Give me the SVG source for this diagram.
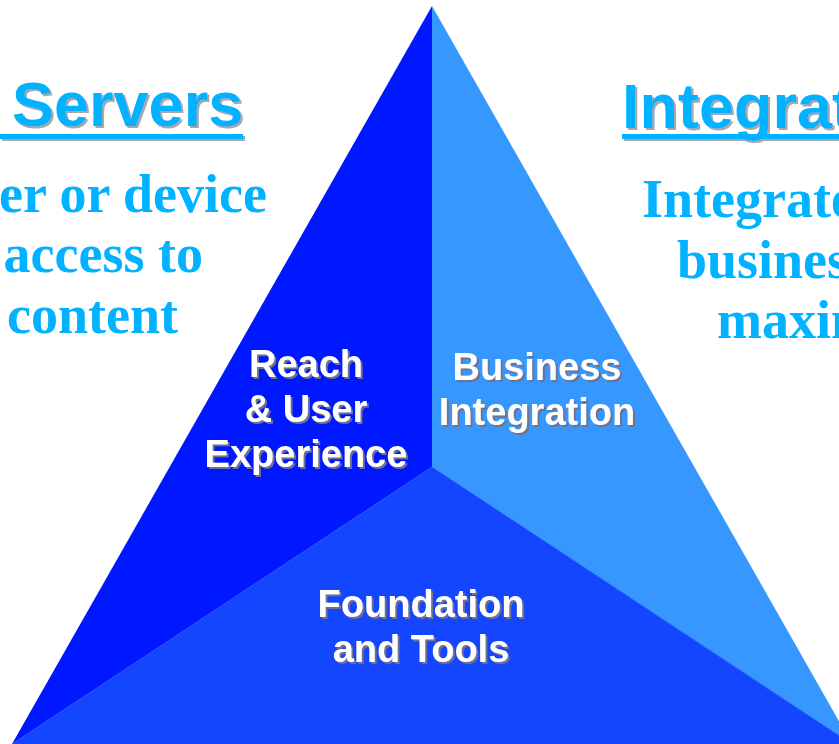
<svg xmlns="http://www.w3.org/2000/svg" width="839" height="744" viewBox="0 0 839 744">
<defs>
<filter id="shHead" x="-5%" y="-10%" width="115%" height="130%">
<feOffset in="SourceAlpha" dx="2" dy="2" result="o"/>
<feFlood flood-color="#a8a8a8"/>
<feComposite in2="o" operator="in" result="s"/>
<feMerge><feMergeNode in="s"/><feMergeNode in="SourceGraphic"/></feMerge>
</filter>
<filter id="shLbl" x="-5%" y="-10%" width="115%" height="130%">
<feOffset in="SourceAlpha" dx="2" dy="2" result="o"/>
<feFlood flood-color="#707090"/>
<feComposite in2="o" operator="in" result="s"/>
<feMerge><feMergeNode in="s"/><feMergeNode in="SourceGraphic"/></feMerge>
</filter>
</defs>
<style>
.head{font-family:"Liberation Sans",Arial,sans-serif;font-weight:bold;font-size:63px;fill:#00b2ff}
.body{font-family:"Liberation Serif","Times New Roman",serif;font-weight:bold;font-size:54px;fill:#00b2ff}
.lbl{font-family:"Liberation Sans",Arial,sans-serif;font-weight:bold;font-size:38px;fill:#ffffff;text-anchor:middle}
.ul{fill:#00b2ff}
</style>
<rect width="839" height="744" fill="#ffffff"/>
<g id="left-text">
<g filter="url(#shHead)">
<rect class="ul" x="0" y="134" width="243" height="5"/>
<text class="head" x="12" y="126">Servers</text>
</g>
<text class="body" text-anchor="end" x="267" y="212">er or device</text>
<text class="body" text-anchor="end" x="203" y="272">access to</text>
<text class="body" text-anchor="end" x="178" y="333">content</text>
</g>
<g id="right-text">
<g filter="url(#shHead)">
<rect class="ul" x="622" y="134" width="220" height="5"/>
<text class="head" x="622" y="128">Integrat</text>
</g>
<text class="body" x="642" y="217">Integrate</text>
<text class="body" x="677" y="278">busines</text>
<text class="body" x="717" y="338">maxin</text>
</g>
<g id="reach">
<polygon points="432,6 432,467 12,744" fill="#0018ff"/>
<g filter="url(#shLbl)">
<text class="lbl" x="306" y="377">Reach</text>
<text class="lbl" x="306" y="422">&amp; User</text>
<text class="lbl" x="306" y="467">Experience</text>
</g>
</g>
<g id="business">
<polygon points="432,6 852,744 432,467" fill="#3698ff"/>
<g filter="url(#shLbl)">
<text class="lbl" x="537" y="380">Business</text>
<text class="lbl" x="537" y="425">Integration</text>
</g>
</g>
<g id="foundation">
<polygon points="432,467 852,744 12,744" fill="#1446ff" stroke="#1446ff" stroke-width="0.5"/>
<g filter="url(#shLbl)">
<text class="lbl" x="421" y="617">Foundation</text>
<text class="lbl" x="421" y="662">and Tools</text>
</g>
</g>
<g id="connectors"/>
</svg>
